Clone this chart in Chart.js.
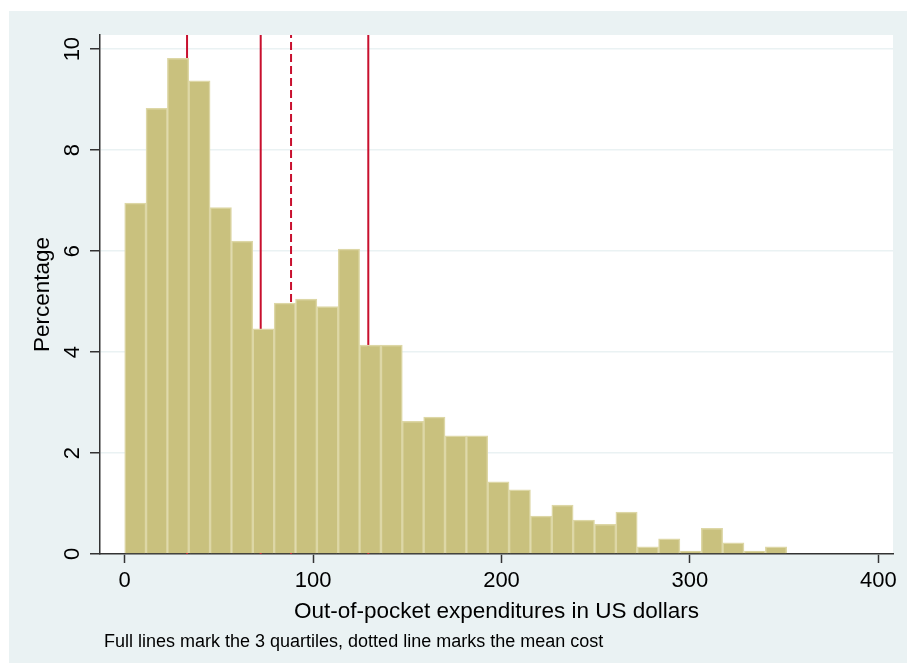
<!DOCTYPE html>
<html>
<head>
<meta charset="utf-8">
<script src="https://cdn.jsdelivr.net/npm/chart.js@4.4.1/dist/chart.umd.min.js"></script>
<style>
body { margin: 0; background: #ffffff; }
#canvas_hist { display: block; }
</style>
</head>
<body>
<canvas id="canvas_hist" width="907" height="663"></canvas>
<script>
// Histogram of out-of-pocket costs (bin centers, US dollars)
var binCenters = [ 5.67, 17.00, 28.34, 39.67, 51.01, 62.34, 73.68, 85.01, 96.35,
		107.68, 119.02, 130.35, 141.69, 153.02, 164.36, 175.69, 187.03, 198.36,
		209.70, 221.03, 232.37, 243.70, 255.04, 266.37, 277.71, 289.04, 300.38,
		311.71, 323.05, 334.38, 345.72 ];
var percentages = [ 6.95, 8.83, 9.82, 9.37, 6.86, 6.20, 4.46, 4.97, 5.05, 4.90,
		6.04, 4.14, 4.14, 2.63, 2.71, 2.34, 2.34, 1.43, 1.27, 0.75, 0.97, 0.67,
		0.59, 0.83, 0.14, 0.30, 0.06, 0.51, 0.22, 0.06, 0.14 ];
var quartiles = [ 33.1, 72.2, 129.3 ];
var meanCost = 88.3;
var xTicks = [ 0, 100, 200, 300, 400 ];
var yTicks = [ 0, 2, 4, 6, 8, 10 ];

var xMin = -13.1, xMax = 407.8, yMax = 10.28;
var lineRed = "#C8102E";
var font = "'Liberation Sans', Arial, Helvetica, sans-serif";

Chart.defaults.font.family = font;
Chart.defaults.color = "#000000";

function vline(x, dashed) {
	return {
		type : 'line',
		order : 1,
		data : [ { x : x, y : 0 }, { x : x, y : yMax } ],
		borderColor : lineRed,
		borderWidth : 2,
		borderDash : dashed ? [ 8, 4 ] : [],
		pointRadius : 0,
		fill : false
	};
}

// backgrounds, rotated y labels and the note
var stataLook = {
	id : 'stataLook',
	beforeDraw : function(chart) {
		var ctx = chart.ctx, a = chart.chartArea;
		ctx.save();
		ctx.fillStyle = "#ffffff";
		ctx.fillRect(0, 0, chart.width, chart.height);
		ctx.fillStyle = "#EAF2F3";
		ctx.fillRect(9, 11, chart.width - 9, chart.height - 11);
		ctx.fillStyle = "#ffffff";
		ctx.fillRect(a.left, a.top, a.right - a.left, a.bottom - a.top);
		ctx.restore();
	},
	afterDraw : function(chart) {
		var ctx = chart.ctx, ys = chart.scales.y;
		ctx.save();
		ctx.fillStyle = "#000000";
		ctx.font = "22px " + font;
		ctx.textAlign = "center";
		ctx.textBaseline = "middle";
		yTicks.forEach(function(v) {
			ctx.save();
			ctx.translate(73, ys.getPixelForValue(v));
			ctx.rotate(-Math.PI / 2);
			ctx.fillText(String(v), 0, 0);
			ctx.restore();
		});
		ctx.font = "18px " + font;
		ctx.textAlign = "left";
		ctx.textBaseline = "alphabetic";
		ctx.fillText("Full lines mark the 3 quartiles, dotted line marks the mean cost", 104, 647);
		ctx.restore();
	}
};

var barData = binCenters.map(function(c, i) {
	return { x : c, y : percentages[i] };
});

var datasets = [ {
	type : 'bar',
	order : 0,
	data : barData,
	backgroundColor : "#C9C17E",
	borderColor : "#DDD7A6",
	borderWidth : 1.5,
	categoryPercentage : 1.0,
	barPercentage : 1.0
} ];
quartiles.forEach(function(q) {
	datasets.push(vline(q, false));
});
datasets.push(vline(meanCost, true));

var histChart = new Chart(document.getElementById("canvas_hist"), {
	type : 'bar',
	data : {
		datasets : datasets
	},
	options : {
		responsive : false,
		animation : false,
		events : [],
		layout : {
			padding : { top : 35, right : 14, left : 0, bottom : 0 }
		},
		plugins : {
			legend : { display : false },
			tooltip : { enabled : false }
		},
		scales : {
			x : {
				type : 'linear',
				offset : false,
				min : xMin,
				max : xMax,
				afterBuildTicks : function(scale) {
					scale.ticks = xTicks.map(function(v) { return { value : v }; });
				},
				afterFit : function(scale) { scale.height = 109; },
				grid : {
					offset : false,
					drawOnChartArea : false,
					drawTicks : true,
					tickLength : 9,
					tickColor : "#333333",
					tickWidth : 1.5
				},
				border : { color : "#333333", width : 1.5 },
				ticks : {
					font : { size : 22 },
					padding : 5,
					maxRotation : 0,
					color : "#000000"
				},
				title : {
					display : true,
					text : "Out-of-pocket expenditures in US dollars",
					font : { size : 22.5 },
					padding : { top : 0, bottom : 37.5 },
					color : "#000000"
				}
			},
			y : {
				min : 0,
				max : yMax,
				afterBuildTicks : function(scale) {
					scale.ticks = yTicks.map(function(v) { return { value : v }; });
				},
				afterFit : function(scale) { scale.width = 100; },
				grid : {
					color : "#EAF2F3",
					lineWidth : 1.5,
					drawTicks : true,
					tickLength : 10,
					tickColor : "#333333",
					tickWidth : 1.5
				},
				border : { color : "#333333", width : 1.5 },
				ticks : { display : false },
				title : {
					display : true,
					text : "Percentage",
					font : { size : 22.5 },
					padding : { top : 29.5, bottom : 0 },
					color : "#000000"
				}
			}
		}
	},
	plugins : [ stataLook ]
});
</script>
</body>
</html>
